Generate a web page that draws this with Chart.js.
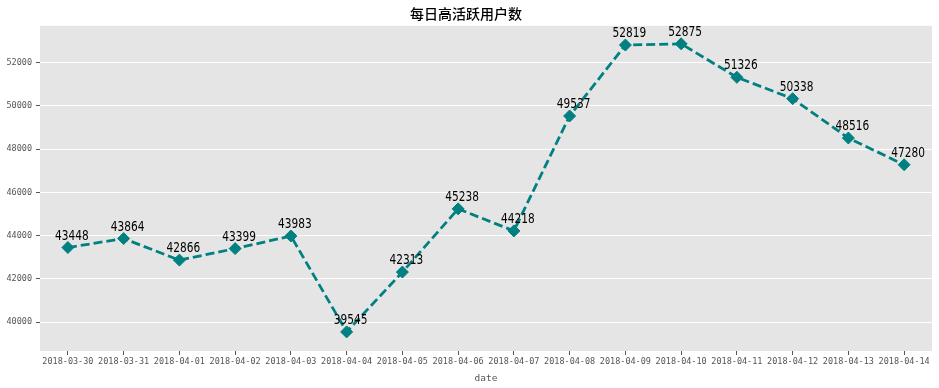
<!DOCTYPE html>
<html>
<head>
<meta charset="utf-8">
<script src="https://cdn.jsdelivr.net/npm/chart.js@4/dist/chart.umd.min.js"></script>
<style>
  html, body { margin: 0; padding: 0; background: #fff; }
  #wrap { width: 939px; height: 388px; }
</style>
</head>
<body>
<div id="wrap"><canvas id="G1" width="939" height="388"></canvas></div>
<script>
var fechas = ["2018-03-30", "2018-03-31", "2018-04-01", "2018-04-02", "2018-04-03", "2018-04-04",
  "2018-04-05", "2018-04-06", "2018-04-07", "2018-04-08", "2018-04-09", "2018-04-10",
  "2018-04-11", "2018-04-12", "2018-04-13", "2018-04-14"];
var usuarios = [43448, 43864, 42866, 43399, 43983, 39545, 42313, 45238, 44218, 49537,
  52819, 52875, 51326, 50338, 48516, 47280];
var ticks_y = [40000, 42000, 44000, 46000, 48000, 50000, 52000];

var gris = '#555555';
var fuenteMono = 'DejaVu Sans Mono';

// fondo gris estilo ggplot en el area del grafico
var fondo = {
  id: 'fondo',
  beforeDraw: function(chart) {
    var a = chart.chartArea, ctx = chart.ctx;
    ctx.save();
    ctx.fillStyle = '#E5E5E5';
    ctx.fillRect(a.left, a.top, a.right - a.left, a.bottom - a.top);
    ctx.restore();
  }
};

// numeros encima de cada punto (letra alta y estrecha)
var etiquetas = {
  id: 'etiquetas',
  afterDatasetsDraw: function(chart) {
    var ctx = chart.ctx;
    var puntos = chart.getDatasetMeta(0).data;
    puntos.forEach(function(p, i) {
      ctx.save();
      ctx.translate(p.x + 4, p.y - 8);
      ctx.scale(0.84, 1);
      ctx.fillStyle = '#000';
      ctx.font = '14px "DejaVu Sans Condensed", "DejaVu Sans", sans-serif';
      ctx.textAlign = 'center';
      ctx.textBaseline = 'alphabetic';
      ctx.fillText(String(usuarios[i]), 0, 0);
      ctx.restore();
    });
  }
};

var grafico = new Chart(document.getElementById("G1").getContext("2d"), {
  type: 'line',
  data: {
    labels: fechas,
    datasets: [{
      label: 'usuarios',
      data: usuarios,
      borderColor: '#008080',
      backgroundColor: '#008080',
      borderWidth: 2.8,
      borderDash: [9, 4],
      tension: 0,
      fill: false,
      pointStyle: 'rectRot',
      pointRadius: 6,
      pointHoverRadius: 6,
      pointBackgroundColor: '#008080',
      pointBorderColor: '#008080',
      pointBorderWidth: 1
    }]
  },
  options: {
    responsive: false,
    animation: false,
    layout: { padding: { left: 0, right: 7, top: 0, bottom: 0 } },
    plugins: {
      legend: { display: false },
      tooltip: { enabled: false },
      title: {
        display: true,
        text: '每日高活跃用户数',
        color: '#000',
        font: { family: '"Noto Sans CJK SC"', size: 14, weight: '500' },
        padding: { top: 5, bottom: 4 }
      }
    },
    scales: {
      x: {
        type: 'category',
        offset: true,
        grid: { display: true, drawOnChartArea: false, tickLength: 4, tickColor: gris, tickWidth: 1 },
        border: { display: false },
        ticks: { color: gris, font: { family: fuenteMono, size: 8.5 }, maxRotation: 0, autoSkip: false, padding: 2 },
        title: { display: true, text: 'date', color: gris, font: { family: fuenteMono, size: 9.5 }, padding: { top: 0, bottom: 4 } },
        afterFit: function(s) { s.height = 37; }
      },
      y: {
        min: 38660,
        max: 53710,
        grid: { color: '#FFFFFF', lineWidth: 1, tickLength: 4, tickColor: gris, tickWidth: 1 },
        border: { display: false },
        ticks: {
          color: gris,
          font: { family: fuenteMono, size: 8.5 },
          padding: 4,
          callback: function(v) { return String(v); }
        },
        afterBuildTicks: function(s) { s.ticks = ticks_y.map(function(v) { return { value: v }; }); },
        afterFit: function(s) { s.width = 40; }
      }
    }
  },
  plugins: [fondo, etiquetas]
});
</script>
</body>
</html>
